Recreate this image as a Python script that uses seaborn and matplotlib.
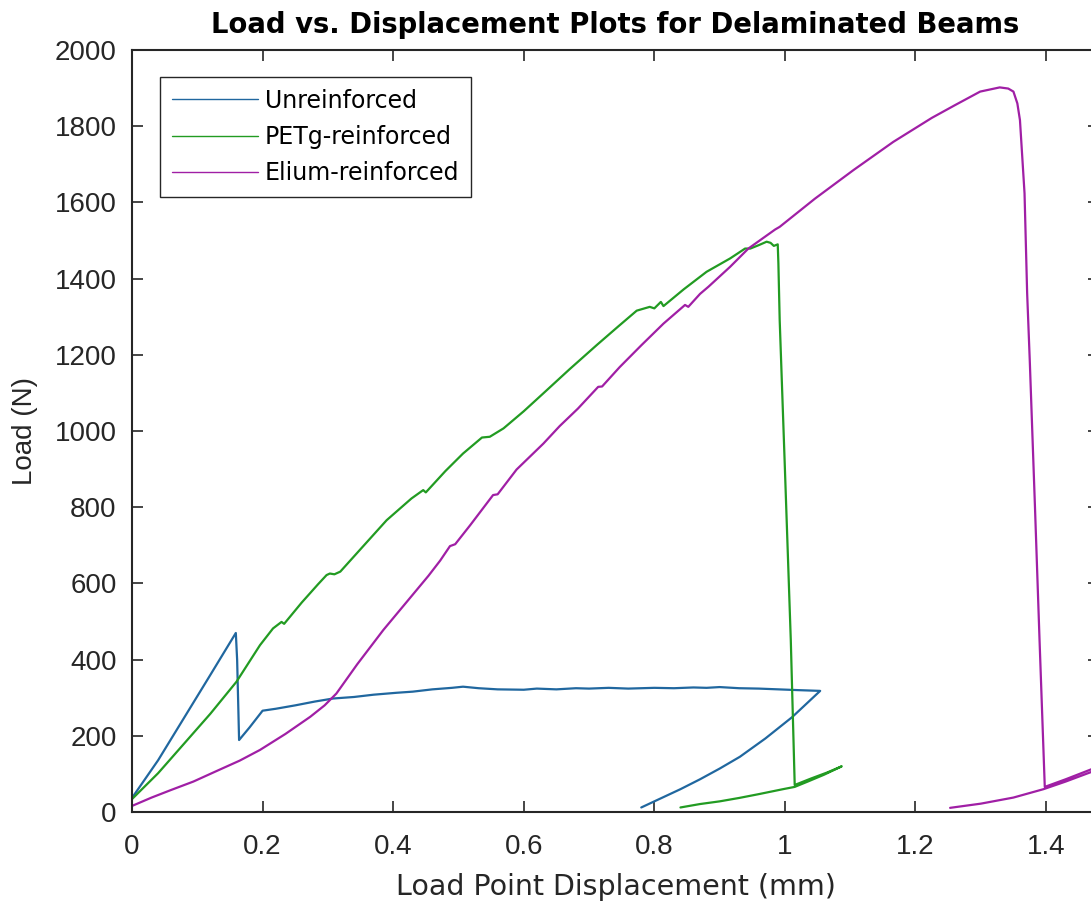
import numpy as np
import pandas as pd
import matplotlib
matplotlib.use("Agg")
import matplotlib.pyplot as plt
import seaborn as sns

# ---------------- data ----------------
unreinf_x = [0.000, 0.040, 0.080, 0.120, 0.159, 0.161, 0.163, 0.164, 0.180, 0.200,
             0.220, 0.250, 0.280, 0.308, 0.340, 0.370, 0.405, 0.430, 0.460, 0.490,
             0.507, 0.531, 0.560, 0.600, 0.620, 0.650, 0.680, 0.700, 0.730, 0.760,
             0.800, 0.830, 0.860, 0.880, 0.900, 0.930, 0.960, 0.990, 1.020, 1.054,
             1.011, 0.970, 0.931, 0.900, 0.870, 0.840, 0.810, 0.780]
unreinf_y = [37, 136, 248, 360, 470, 400, 260, 189, 222, 266,
             271, 280, 290, 298, 302, 308, 313, 316, 322, 326,
             329, 325, 322, 321, 324, 322, 325, 324, 326, 324,
             326, 325, 327, 326, 328, 325, 324, 322, 320, 318,
             249, 193, 145, 114, 86, 60, 36, 12]

petg_x = [0.000, 0.040, 0.080, 0.120, 0.160, 0.196, 0.216, 0.229, 0.233, 0.260,
          0.285, 0.298, 0.303, 0.310, 0.319, 0.350, 0.390, 0.428, 0.446, 0.450,
          0.480, 0.507, 0.536, 0.548, 0.569, 0.600, 0.630, 0.670, 0.712, 0.745,
          0.773, 0.793, 0.800, 0.810, 0.814, 0.845, 0.880, 0.916, 0.939, 0.947,
          0.960, 0.972, 0.978, 0.983, 0.989, 0.990, 0.992, 1.000, 1.009, 1.015,
          1.040, 1.065, 1.087, 1.060, 1.035, 1.015, 0.997, 0.960, 0.930, 0.900,
          0.870, 0.840]
petg_y = [34, 102, 180, 258, 342, 438, 482, 499, 494, 550,
          598, 622, 626, 624, 631, 690, 766, 823, 845, 839,
          895, 941, 983, 985, 1007, 1052, 1099, 1162, 1226, 1275,
          1316, 1326, 1322, 1339, 1328, 1372, 1418, 1453, 1479, 1479,
          1488, 1497, 1494, 1486, 1490, 1440, 1291, 900, 451, 71,
          88, 104, 120, 98, 80, 66, 60, 47, 37, 28,
          21, 12]

elium_x = [0.000, 0.030, 0.060, 0.094, 0.130, 0.165, 0.196, 0.235, 0.273, 0.295,
           0.313, 0.345, 0.385, 0.420, 0.454, 0.472, 0.487, 0.495, 0.518, 0.553,
           0.560, 0.589, 0.630, 0.655, 0.683, 0.714, 0.720, 0.747, 0.780, 0.814,
           0.847, 0.852, 0.870, 0.883, 0.916, 0.944, 0.985, 0.992, 1.046, 1.105,
           1.166, 1.225, 1.260, 1.299, 1.329, 1.342, 1.350, 1.356, 1.360, 1.367,
           1.371, 1.375, 1.383, 1.390, 1.398, 1.430, 1.469, 1.490, 1.469, 1.430,
           1.396, 1.350, 1.300, 1.253]
elium_y = [16, 38, 58, 80, 108, 135, 163, 205, 250, 280,
           311, 388, 478, 550, 620, 660, 698, 703, 753, 832,
           834, 899, 967, 1013, 1059, 1116, 1117, 1168, 1225, 1282,
           1331, 1326, 1360, 1379, 1431, 1479, 1529, 1536, 1610, 1685,
           1759, 1822, 1855, 1891, 1902, 1899, 1891, 1860, 1816, 1624,
           1362, 1186, 800, 451, 66, 86, 112, 124, 105, 80,
           60, 38, 22, 11]

series_names = ["Unreinforced", "PETg-reinforced", "Elium-reinforced"]
x_ticks = [0, 0.2, 0.4, 0.6, 0.8, 1.0, 1.2, 1.4]
x_tick_labels = ["0", "0.2", "0.4", "0.6", "0.8", "1", "1.2", "1.4"]
y_ticks = [0, 200, 400, 600, 800, 1000, 1200, 1400, 1600, 1800, 2000]

frames = []
for name, xs, ys in zip(series_names,
                        [unreinf_x, petg_x, elium_x],
                        [unreinf_y, petg_y, elium_y]):
    frames.append(pd.DataFrame({"x": xs, "y": ys, "series": name}))
df = pd.concat(frames, ignore_index=True)

palette = {"Unreinforced": "#20679f",
           "PETg-reinforced": "#229b22",
           "Elium-reinforced": "#a01fa5"}

# ---------------- style ----------------
sns.set_theme(style="white")
plt.rcParams["font.family"] = ["Liberation Sans", "DejaVu Sans"]
wide = ["DejaVu Sans"]

fig = plt.figure(figsize=(10.91, 9.07), dpi=100)
ax = fig.add_axes([0.121, 0.1047, 0.8863, 0.8401])

sns.lineplot(data=df, x="x", y="y", hue="series", palette=palette,
             sort=False, estimator=None, units="series", linewidth=1.6, ax=ax)

ax.set_xlim(0, 1.481)
ax.set_ylim(0, 2000)
ax.set_xticks(x_ticks)
ax.set_xticklabels(x_tick_labels)
ax.set_yticks(y_ticks)

dark = "#262626"
for s in ax.spines.values():
    s.set_visible(True)
    s.set_color(dark)
    s.set_linewidth(1.5)

ax.tick_params(axis="both", which="both", direction="in", length=8, width=1.2,
               colors=dark, labelsize=20, top=True, right=True,
               bottom=True, left=True)
ax.tick_params(axis="x", pad=16)
ax.tick_params(axis="y", pad=11)

ax.set_xlabel("Load Point Displacement (mm)", fontsize=20.5, color=dark,
              labelpad=9, family=wide)
ax.set_ylabel("Load (N)", fontsize=20, color=dark, labelpad=12)
ax.set_title("Load vs. Displacement Plots for Delaminated Beams",
             fontsize=19.8, fontweight="bold", color="black", pad=12, family=wide)

handles, labels = ax.get_legend_handles_labels()
for h in handles:
    h.set_linewidth(1.0)
leg = ax.legend(handles, labels, loc="upper left", bbox_to_anchor=(0.029, 0.965),
                borderaxespad=0, handlelength=3.65, handletextpad=0.3,
                labelspacing=0.52, borderpad=0.5, frameon=True, fancybox=False,
                framealpha=1, prop={"family": wide, "size": 17})
leg.get_frame().set_edgecolor(dark)
leg.get_frame().set_linewidth(1.0)
for t in leg.get_texts():
    t.set_color("black")

fig.savefig("out.png", dpi=100)
